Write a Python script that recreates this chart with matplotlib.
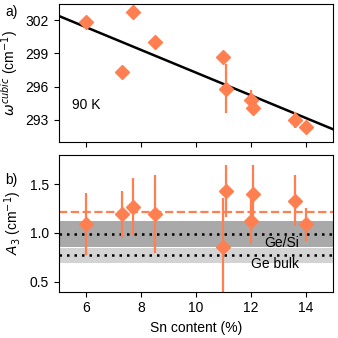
import numpy as np
import matplotlib
matplotlib.use("Agg")
import matplotlib.pyplot as plt

plt.rcParams["font.family"] = ["Liberation Sans", "DejaVu Sans"]
plt.rcParams["font.size"] = 10
plt.rcParams["mathtext.fontset"] = "dejavusans"

# a) peak position
sn_a = [6.0, 7.3, 7.7, 8.5, 11.0, 11.1, 12.0, 12.1, 13.6, 14.0]
omega = [301.8, 297.3, 302.7, 300.0, 298.7, 295.8, 294.8, 294.1, 293.0, 292.4]
omega_err = [0, 0, 0, 0, 0, 2.2, 0.9, 0, 0.7, 0.4]
fit_slope = -1.023
fit_intercept = 307.5

# b) A3
sn_b = [6.0, 7.3, 7.7, 8.5, 11.0, 11.1, 12.0, 12.1, 13.6, 14.0]
a3 = [1.09, 1.19, 1.27, 1.20, 0.86, 1.43, 1.12, 1.40, 1.33, 1.09]
a3_err = [0.32, 0.245, 0.29, 0.40, 0.50, 0.27, 0.235, 0.30, 0.26, 0.17]
a3_mean = 1.22
gesi_val, gesi_err = 0.99, 0.13
gebulk_val, gebulk_err = 0.77, 0.08

orange = "#FF7F50"

fig = plt.figure(figsize=(3.38, 3.38), dpi=100)
ax1 = fig.add_axes([58.5 / 338, 1 - 141.5 / 338, 274.5 / 338, 137.5 / 338])
ax2 = fig.add_axes([58.5 / 338, 1 - 291.5 / 338, 274.5 / 338, 136.5 / 338])

xx = np.array([5, 15])
ax1.plot(xx, fit_intercept + fit_slope * xx, color="black", lw=1.8, zorder=1)
ax1.errorbar(sn_a, omega, yerr=omega_err, fmt="D", color=orange, ms=7,
             elinewidth=1.6, capsize=0, zorder=2)
ax1.text(5.5, 294.3, "90 K", fontsize=10, va="center", ha="left")
ax1.set_xlim(5, 15)
ax1.set_ylim(291.05, 303.45)
ax1.set_yticks([293, 296, 299, 302])
ax1.set_xticks([6, 8, 10, 12, 14])
ax1.tick_params(labelbottom=False)
ax1.set_ylabel(r"$\omega^{cubic}$ (cm$^{-1}$)")

ax2.axhspan(gebulk_val - gebulk_err, gebulk_val + gebulk_err, color="#d3d3d3", lw=0, zorder=0)
ax2.axhspan(gesi_val - gesi_err, gesi_val + gesi_err, color="#a9a9a9", lw=0, zorder=0)
ax2.axhline(gesi_val, color="black", ls=(0, (1, 2)), lw=1.8, zorder=1)
ax2.axhline(gebulk_val, color="black", ls=(0, (1, 2)), lw=1.8, zorder=1)
ax2.axhline(a3_mean, color=orange, ls="--", lw=1.6, zorder=1)
ax2.errorbar(sn_b, a3, yerr=a3_err, fmt="D", color=orange, ms=7,
             elinewidth=1.6, capsize=0, zorder=2)
ax2.text(13.75, 0.895, "Ge/Si", ha="right", va="center", fontsize=10)
ax2.text(13.75, 0.685, "Ge bulk", ha="right", va="center", fontsize=10)
ax2.set_xlim(5, 15)
ax2.set_ylim(0.4, 1.8)
ax2.set_yticks([0.5, 1.0, 1.5])
ax2.set_xticks([6, 8, 10, 12, 14])
ax2.set_xlabel("Sn content (%)")
ax2.set_ylabel(r"$A_3$ (cm$^{-1}$)")

fig.text(5 / 338, 1 - 12 / 338, "a)", fontsize=10, va="center")
fig.text(5 / 338, 1 - 180 / 338, "b)", fontsize=10, va="center")

fig.savefig("out.png", dpi=100)
